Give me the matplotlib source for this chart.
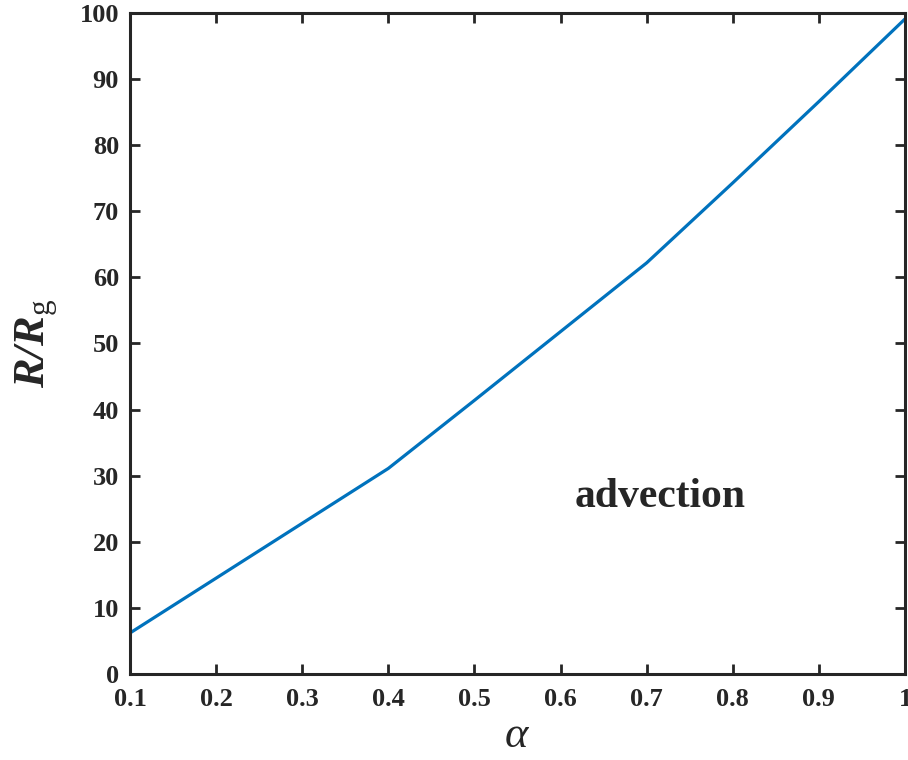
import numpy as np
import matplotlib as mpl
mpl.use("Agg")
import matplotlib.pyplot as plt

# fonts: Times-like serif, as in the MATLAB original
mpl.rcParams['font.family'] = 'Liberation Serif'
mpl.rcParams['mathtext.fontset'] = 'custom'
mpl.rcParams['mathtext.rm'] = 'Liberation Serif'
mpl.rcParams['mathtext.it'] = 'Liberation Serif:italic'
mpl.rcParams['mathtext.bf'] = 'Liberation Serif:bold'
mpl.rcParams['mathtext.bfit'] = 'Liberation Serif:bold:italic'

# data
alpha = [0.1, 0.2, 0.3, 0.4, 0.5, 0.6, 0.7, 0.8, 0.9, 1.0]
r_rg = [6.2, 14.5, 22.8, 31.1, 41.4, 51.8, 62.2, 74.3, 86.6, 99.1]

xticks = [0.1, 0.2, 0.3, 0.4, 0.5, 0.6, 0.7, 0.8, 0.9, 1.0]
xtick_labels = ['0.1', '0.2', '0.3', '0.4', '0.5', '0.6', '0.7', '0.8', '0.9', '1']
yticks = [0, 10, 20, 30, 40, 50, 60, 70, 80, 90, 100]

fig = plt.figure(figsize=(9.08, 7.6), dpi=100)
ax = fig.add_axes([0.1432, 0.1132, 0.8535, 0.8697])

ax.plot(alpha, r_rg, color='#0072BD', lw=2.3, solid_capstyle='butt')

ax.set_xlim(0.1, 1.0)
ax.set_ylim(0, 100)
ax.set_xticks(xticks)
ax.set_xticklabels(xtick_labels)
ax.set_yticks(yticks)

ax.tick_params(direction='in', top=True, right=True, length=7, width=2,
               labelsize=19, color='#262626', labelcolor='#262626')
ax.tick_params(axis='x', pad=10)
ax.tick_params(axis='y', pad=8)
for lab in ax.get_xticklabels() + ax.get_yticklabels():
    lab.set_fontweight('bold')
for sp in ax.spines.values():
    sp.set_linewidth(2.2)
    sp.set_color('#262626')

ax.set_xlabel(r'$\alpha$', fontsize=32, color='#262626', labelpad=4)
ax.set_ylabel(r'$\mathbfit{R/R}_{\mathrm{g}}$', fontsize=32, color='#262626', labelpad=14)

ax.text(0.7156, 25.3, 'advection', fontsize=30, fontweight='bold',
        color='#262626', ha='center', va='baseline')

fig.savefig('out.png', dpi=100)
